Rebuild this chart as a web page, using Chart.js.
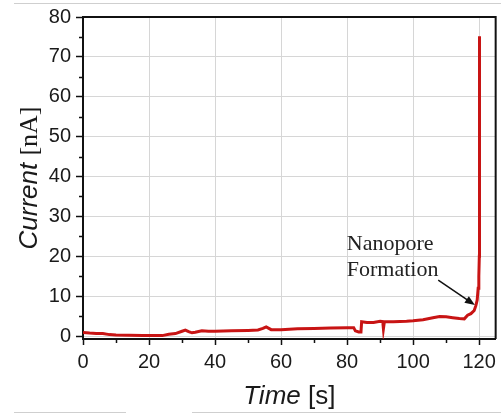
<!DOCTYPE html>
<html>
<head>
<meta charset="utf-8">
<script src="https://cdn.jsdelivr.net/npm/chart.js@4.4.1/dist/chart.umd.min.js"></script>
<style>
  html, body { margin: 0; padding: 0; background: #fff; }
  #wrap { width: 501px; height: 416px; position: relative; }
</style>
</head>
<body>
<div id="wrap"><canvas id="chartCanvas"></canvas></div>
<script>
// time [s] and current [nA]
const timeS = [0, 2, 4, 6, 8, 10, 14, 18, 22, 24, 26, 28, 30, 31, 32, 33, 34, 36, 38, 40,
    45, 50, 53, 54.5, 55.5, 57, 60, 65, 70, 75, 80, 82, 82.5, 83.5, 84.2, 84.4, 86, 88, 90,
    90.8, 91, 91.3, 94, 98, 100, 103, 106, 108, 110, 112, 114, 115.5, 116.5, 117.5, 118.5,
    119, 119.4, 119.7, 119.9, 120.05, 120.1];
const currentNA = [0.9, 0.75, 0.65, 0.6, 0.35, 0.25, 0.2, 0.15, 0.1, 0.1, 0.45, 0.6, 1.2, 1.5,
    1.1, 0.8, 0.95, 1.3, 1.2, 1.2, 1.3, 1.4, 1.5, 1.9, 2.3, 1.6, 1.6, 1.8, 1.9, 2.0, 2.1, 2.1,
    1.3, 1.0, 1.0, 3.6, 3.4, 3.4, 3.7, 3.6, 1.8, 3.6, 3.6, 3.7, 3.8, 4.1, 4.6, 4.9, 4.8, 4.6,
    4.4, 4.3, 5.2, 5.6, 6.4, 7.6, 9, 12, 15, 20, 75.2];

const xTicks = [0, 20, 40, 60, 80, 100, 120];
const xMinorTicks = [10, 30, 50, 70, 90, 110];
const yTicks = [0, 10, 20, 30, 40, 50, 60, 70, 80];
const yMinorTicks = [5, 15, 25, 35, 45, 55, 65, 75];

// annotation "Nanopore Formation" (data coords)
const noteLines = ["Nanopore", "Formation"];
const noteAt = { x: 79.9, y: 21.5 };
const arrowFrom = { x: 107.6, y: 14 };
const arrowTo = { x: 118.7, y: 7.75 };

const SANS = '"Liberation Sans", Arial, sans-serif';
const SERIF = '"Liberation Serif", "Times New Roman", serif';
const INK = "#1a1a1a";


// frame, minor ticks, axis titles, annotation
const extras = {
    id: "extras",
    afterDraw(chart) {
        const ctx = chart.ctx;
        const a = chart.chartArea;
        const xs = chart.scales.x;
        const ys = chart.scales.y;

        ctx.save();

        // top + right frame
        ctx.strokeStyle = "#111";
        ctx.lineWidth = 2;
        ctx.beginPath();
        ctx.moveTo(a.left, a.top);
        ctx.lineTo(a.right, a.top);
        ctx.lineTo(a.right, a.bottom);
        ctx.stroke();

        // minor ticks
        ctx.lineWidth = 1.5;
        ctx.beginPath();
        yMinorTicks.forEach(v => {
            const py = Math.round(ys.getPixelForValue(v)) + 0.5;
            ctx.moveTo(a.left - 4, py);
            ctx.lineTo(a.left, py);
        });
        xMinorTicks.forEach(v => {
            const px = Math.round(xs.getPixelForValue(v)) + 0.5;
            ctx.moveTo(px, a.bottom);
            ctx.lineTo(px, a.bottom + 4);
        });
        ctx.stroke();

        // y title: "Current" italic sans + "[nA]" serif
        ctx.fillStyle = INK;
        ctx.textBaseline = "alphabetic";
        ctx.textAlign = "left";
        const fy1 = "italic 26px " + SANS;
        const fy2 = "26px " + SERIF;
        ctx.font = fy1;
        const w1 = ctx.measureText("Current ").width;
        ctx.font = fy2;
        const w2 = ctx.measureText("[nA]").width;
        ctx.save();
        ctx.translate(37, (a.top + a.bottom) / 2);
        ctx.rotate(-Math.PI / 2);
        ctx.font = fy1;
        ctx.fillText("Current ", -(w1 + w2) / 2, 0);
        ctx.font = fy2;
        ctx.fillText("[nA]", -(w1 + w2) / 2 + w1, 0);
        ctx.restore();

        // x title: "Time" italic + "[s]"
        const fx1 = "italic 26px " + SANS;
        const fx2 = "26px " + SANS;
        ctx.font = fx1;
        const t1 = ctx.measureText("Time ").width;
        ctx.font = fx2;
        const t2 = ctx.measureText("[s]").width;
        const cx = (a.left + a.right) / 2;
        ctx.font = fx1;
        ctx.fillText("Time ", cx - (t1 + t2) / 2, 404);
        ctx.font = fx2;
        ctx.fillText("[s]", cx - (t1 + t2) / 2 + t1, 404);

        // annotation text
        ctx.font = "22px " + SERIF;
        ctx.fillStyle = "#222";
        const nx = xs.getPixelForValue(noteAt.x);
        const ny = ys.getPixelForValue(noteAt.y);
        noteLines.forEach((s, i) => ctx.fillText(s, nx, ny + i * 26));

        // arrow
        const x0 = xs.getPixelForValue(arrowFrom.x), y0 = ys.getPixelForValue(arrowFrom.y);
        const x1 = xs.getPixelForValue(arrowTo.x), y1 = ys.getPixelForValue(arrowTo.y);
        const ang = Math.atan2(y1 - y0, x1 - x0);
        ctx.strokeStyle = "#111";
        ctx.lineWidth = 1.5;
        ctx.beginPath();
        ctx.moveTo(x0, y0);
        ctx.lineTo(x1 - 6 * Math.cos(ang), y1 - 6 * Math.sin(ang));
        ctx.stroke();
        ctx.fillStyle = "#111";
        ctx.beginPath();
        ctx.moveTo(x1, y1);
        ctx.lineTo(x1 - 10 * Math.cos(ang) + 4 * Math.sin(ang), y1 - 10 * Math.sin(ang) - 4 * Math.cos(ang));
        ctx.lineTo(x1 - 10 * Math.cos(ang) - 4 * Math.sin(ang), y1 - 10 * Math.sin(ang) + 4 * Math.cos(ang));
        ctx.closePath();
        ctx.fill();

        // faint scan lines from the source figure
        ctx.strokeStyle = "#cfcfcf";
        ctx.lineWidth = 1;
        ctx.beginPath();
        ctx.moveTo(14, 3.5); ctx.lineTo(501, 3.5);
        ctx.moveTo(14, 412.5); ctx.lineTo(126, 412.5);
        ctx.moveTo(192, 412.5); ctx.lineTo(501, 412.5);
        ctx.stroke();

        ctx.restore();
    }
};


const ctx = document.getElementById("chartCanvas").getContext("2d");

new Chart(ctx, {
    type: "line",
    data: {
        datasets: [{
            data: timeS.map((t, i) => ({ x: t, y: currentNA[i] })),
            borderColor: "#c81414",
            borderWidth: 3,
            pointRadius: 0,
            tension: 0,
            fill: false
        }]
    },
    options: {
        responsive: true,
        maintainAspectRatio: false,
        animation: false,
        layout: {
            padding: { top: 16, right: 4, left: 0, bottom: 0 }
        },
        plugins: {
            legend: { display: false },
            tooltip: { enabled: false }
        },
        scales: {
            x: {
                type: "linear",
                min: 0,
                max: 125,
                afterBuildTicks: s => { s.ticks = xTicks.map(v => ({ value: v })); },
                afterFit: s => { s.height = 77; },
                grid: {
                    color: "#d6d6d6",
                    lineWidth: 1,
                    tickColor: "#111",
                    tickLength: 6,
                    tickWidth: 1.5
                },
                border: { color: "#111", width: 2 },
                ticks: {
                    color: INK,
                    padding: 5,
                    maxRotation: 0,
                    font: { family: SANS, size: 20 }
                }
            },
            y: {
                type: "linear",
                min: -0.75,
                max: 80,
                afterBuildTicks: s => { s.ticks = yTicks.map(v => ({ value: v })); },
                afterFit: s => { s.width = 83; },
                grid: {
                    color: "#d6d6d6",
                    lineWidth: 1,
                    tickColor: "#111",
                    tickLength: 7,
                    tickWidth: 1.5
                },
                border: { color: "#111", width: 2 },
                ticks: {
                    color: INK,
                    padding: 5,
                    font: { family: SANS, size: 20 }
                }
            }
        }
    },
    plugins: [extras]
});
</script>
</body>
</html>
